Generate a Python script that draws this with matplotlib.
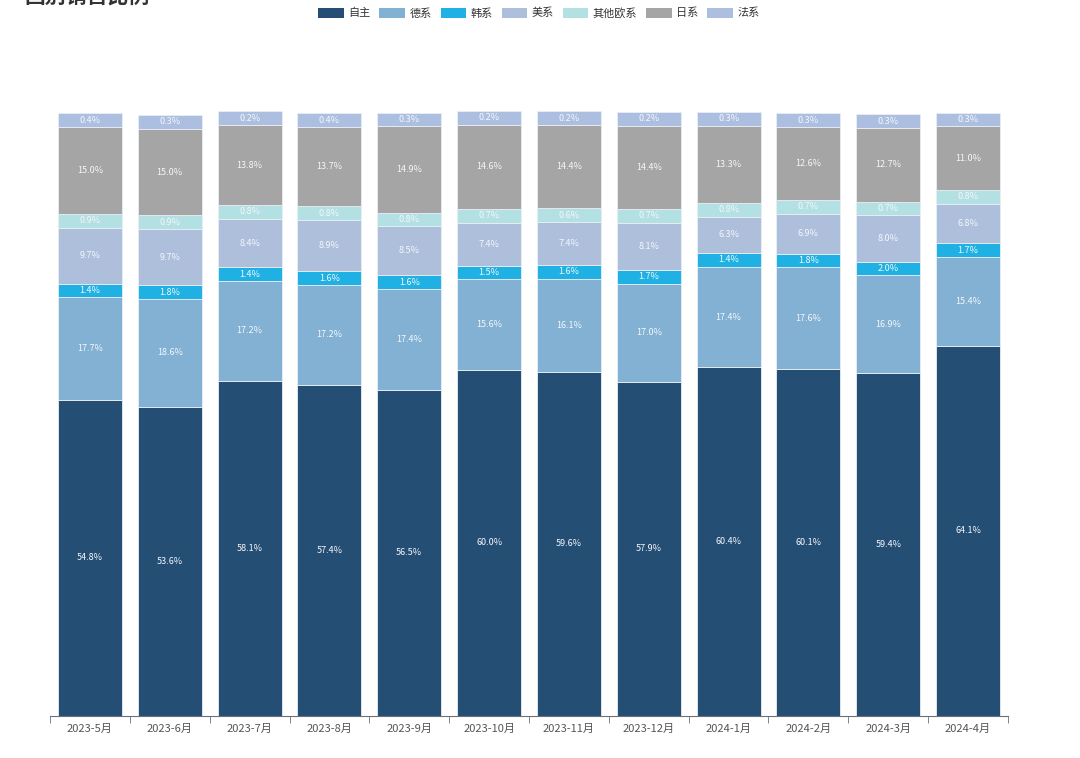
import numpy as np
import matplotlib
matplotlib.use("Agg")
import matplotlib.pyplot as plt
from matplotlib.patches import Patch

plt.rcParams["font.family"] = ["Noto Sans CJK SC", "DejaVu Sans"]

months = ["2023-5月", "2023-6月", "2023-7月", "2023-8月", "2023-9月", "2023-10月",
          "2023-11月", "2023-12月", "2024-1月", "2024-2月", "2024-3月", "2024-4月"]

series_names = ["自主", "德系", "韩系", "美系", "其他欧系", "日系", "法系"]

zizhu   = [54.8, 53.6, 58.1, 57.4, 56.5, 60.0, 59.6, 57.9, 60.4, 60.1, 59.4, 64.1]
dexi    = [17.7, 18.6, 17.2, 17.2, 17.4, 15.6, 16.1, 17.0, 17.4, 17.6, 16.9, 15.4]
hanxi   = [1.4, 1.8, 1.4, 1.6, 1.6, 1.5, 1.6, 1.7, 1.4, 1.8, 2.0, 1.7]
meixi   = [9.7, 9.7, 8.4, 8.9, 8.5, 7.4, 7.4, 8.1, 6.3, 6.9, 8.0, 6.8]
qita_ou = [0.9, 0.9, 0.8, 0.8, 0.8, 0.7, 0.6, 0.7, 0.8, 0.7, 0.7, 0.8]
rixi    = [15.0, 15.0, 13.8, 13.7, 14.9, 14.6, 14.4, 14.4, 13.3, 12.6, 12.7, 11.0]
faxi    = [0.4, 0.3, 0.2, 0.4, 0.3, 0.2, 0.2, 0.2, 0.3, 0.3, 0.3, 0.3]

colors = ["#254e74", "#82b1d3", "#1fb1e3", "#aebfdc", "#b3e0e3", "#a5a5a5", "#adbfe0"]

# segments get a minimum drawn height (like echarts barMinHeight)
MIN_H = 2.4

fig = plt.figure(figsize=(10.8, 7.58), dpi=100)
ax = fig.add_axes([50 / 1080, 1 - 716 / 758, 958 / 1080, 664 / 758])

x = np.arange(len(months))
bottom = np.zeros(len(months))
all_series = [zizhu, dexi, hanxi, meixi, qita_ou, rixi, faxi]
for name, vals, col in zip(series_names, all_series, colors):
    vals = np.array(vals)
    h = np.maximum(vals, MIN_H)
    ax.bar(x, h, width=0.8, bottom=bottom, color=col, edgecolor="#e9eef4",
           linewidth=0.6, label=name)
    for xi, b, hi, v in zip(x, bottom, h, vals):
        ax.text(xi, b + hi / 2, f"{v:.1f}%", ha="center", va="center",
                color="#f4f7fb", fontsize=6.5)
    bottom += h

ax.set_xlim(-0.5, len(months) - 0.5)
ax.set_ylim(0, 115)
ax.set_yticks([])
for s in ["top", "right", "left"]:
    ax.spines[s].set_visible(False)
ax.spines["bottom"].set_color("#6e7079")
ax.set_xticks(x)
ax.set_xticklabels(months, fontsize=8, color="#555555")
ax.tick_params(axis="x", which="major", length=0, pad=6)
ax.set_xticks(np.arange(-0.5, len(months)), minor=True)
ax.tick_params(axis="x", which="minor", length=5, color="#6e7079")

handles = [Patch(facecolor=c, edgecolor="none", label=n)
           for n, c in zip(series_names, colors)]
fig.legend(handles=handles, loc="center", bbox_to_anchor=(539 / 1080, 1 - 13 / 758),
           ncol=7, frameon=False, fontsize=8, handlelength=2.3, handleheight=1.0,
           handletextpad=0.4, columnspacing=0.8, labelcolor="#333333")

# title, cut off at the top edge in the reference
fig.text(24 / 1080, 1.0 + 4 / 758, "国别销售比例", fontsize=15, fontweight="bold",
         color="#333333", ha="left", va="center")

fig.savefig("out.png", dpi=100)
